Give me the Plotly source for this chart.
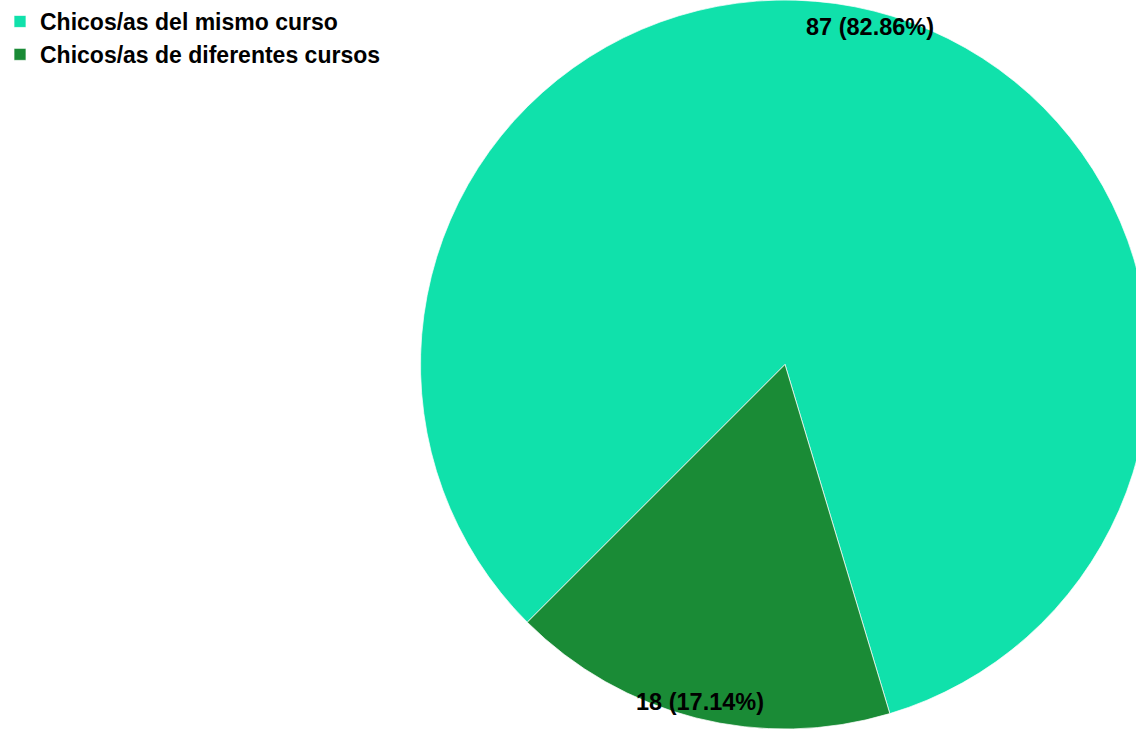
import math
import plotly.graph_objects as go

labels = ["Chicos/as del mismo curso", "Chicos/as de diferentes cursos"]
values = [87, 18]
colors = ["#10E1AB", "#1A8B36"]

W, H = 1150, 729
ROT = 225  # start angle of first slice, clockwise from 12 o'clock
FONT = "Liberation Sans, Arial, sans-serif"

fig = go.Figure()
fig.add_trace(go.Pie(
    labels=labels,
    values=values,
    sort=False,
    direction="clockwise",
    rotation=ROT - 360,
    marker=dict(colors=colors, line=dict(color="rgba(255,255,255,0.7)", width=1)),
    textinfo="none",
    hoverinfo="label+value+percent",
    domain=dict(x=[420 / W, 1.0], y=[0.0, 1.0]),
))

# label positions computed from the data (mid-angle of each slice, near the rim)
dom_x0 = 420
r = min(W - dom_x0, H) / 2.0
cx = dom_x0 + (W - dom_x0) / 2.0
cy = H / 2.0
total = sum(values)
start = ROT
annotations = []
for v in values:
    sweep = 360.0 * v / total
    mid = math.radians(start + sweep / 2.0)
    rr = 0.955 * r
    px = cx + rr * math.sin(mid)
    py = cy - rr * math.cos(mid)
    annotations.append(dict(
        x=px / W, y=1 - py / H, xref="paper", yref="paper",
        text=f"{v} ({100.0 * v / total:.2f}%)",
        showarrow=False, xanchor="center", yanchor="middle",
        font=dict(family=FONT, size=23.5, color="#000000", weight="bold"),
    ))
    start += sweep

fig.update_layout(
    width=W, height=H,
    margin=dict(l=0, r=0, t=0, b=0),
    paper_bgcolor="white",
    plot_bgcolor="white",
    annotations=annotations,
    showlegend=True,
    legend=dict(
        x=0, y=1, xanchor="left", yanchor="top",
        font=dict(family=FONT, size=23, color="#000000", weight="bold"),
        bgcolor="rgba(0,0,0,0)",
        traceorder="normal",
    ),
)

fig.write_html(
    "out.html",
    config={"displayModeBar": False},
    post_script="document.body.style.margin='0';document.body.style.overflow='hidden';",
)
